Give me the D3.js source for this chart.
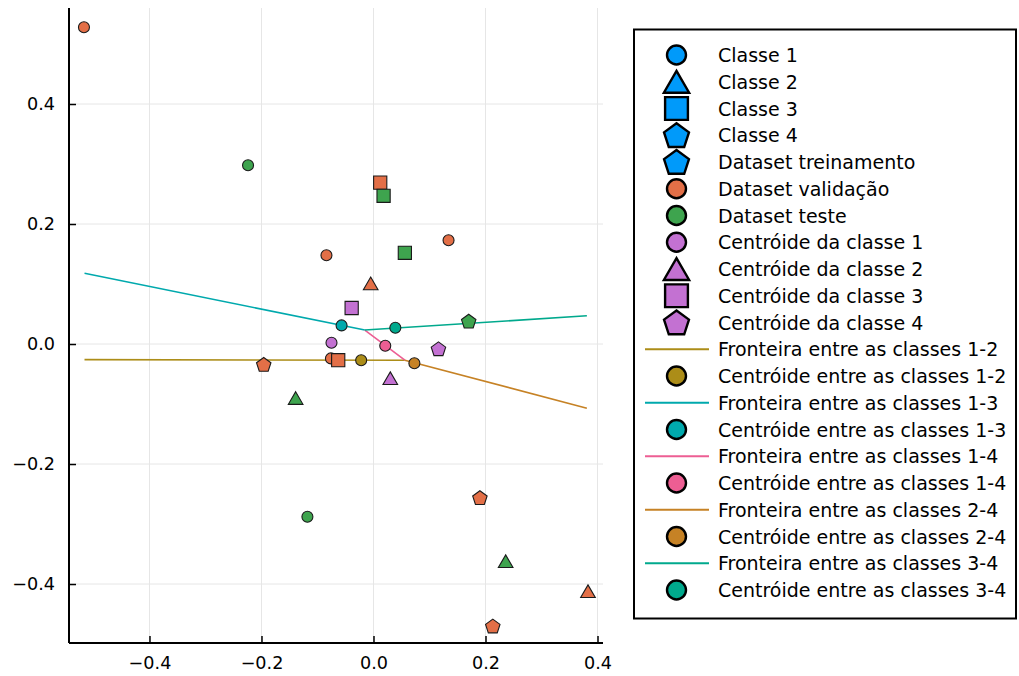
<!DOCTYPE html>
<html>
<head>
<meta charset="utf-8">
<script src="https://cdn.jsdelivr.net/npm/d3@7"></script>
<style>
  html, body { margin: 0; padding: 0; background: #fff; }
  svg { display: block; font-family: "DejaVu Sans", sans-serif; }
</style>
</head>
<body>
<svg id="chart" width="1019" height="676"></svg>
<script>
// ---- data ---------------------------------------------------------------
// Dataset points: [x, y, shape]
const validacao = [
  [-0.517, 0.528, "circle"],
  [0.134, 0.173, "circle"],
  [-0.084, 0.148, "circle"],
  [-0.076, -0.024, "circle"],
  [0.012, 0.269, "square"],
  [-0.063, -0.027, "square"],
  [-0.005, 0.101, "triangle"],
  [0.383, -0.412, "triangle"],
  [-0.196, -0.034, "pentagon"],
  [0.190, -0.256, "pentagon"],
  [0.213, -0.470, "pentagon"]
];
const teste = [
  [-0.224, 0.298, "circle"],
  [-0.118, -0.288, "circle"],
  [0.018, 0.247, "square"],
  [0.056, 0.152, "square"],
  [-0.139, -0.090, "triangle"],
  [0.236, -0.362, "triangle"],
  [0.170, 0.038, "pentagon"]
];
// Class centroids
const centroides = [
  [-0.075, 0.002, "circle"],
  [0.030, -0.057, "triangle"],
  [-0.039, 0.060, "square"],
  [0.116, -0.008, "pentagon"]
];
// Decision boundaries between class pairs
const pares = ["1-2", "1-3", "1-4", "2-4", "3-4"];
const fronteiras = [
  [[-0.516, -0.026], [0.056, -0.027]],
  [[-0.516, 0.118], [-0.0155, 0.0233]],
  [[-0.0155, 0.0233], [0.056, -0.027]],
  [[0.056, -0.027], [0.381, -0.107]],
  [[-0.0155, 0.0233], [0.381, 0.047]]
];
// Midpoint centroid between each class pair
const centroidesEntre = [
  [-0.022, -0.027],
  [-0.057, 0.031],
  [0.021, -0.003],
  [0.073, -0.032],
  [0.039, 0.027]
];
const xTicks = [-0.4, -0.2, 0.0, 0.2, 0.4];
const yTicks = [-0.4, -0.2, 0.0, 0.2, 0.4];

const palette = ["#009AFA", "#E36F47", "#3EA44E", "#C371D2",
                 "#AC8D18", "#00A9AD", "#ED5E93", "#C68225", "#00A98D"];
const pairColors = palette.slice(4, 9);

// Legend entries in drawing order
const legendEntries = [
  { label: "Classe 1", kind: "marker", shape: "circle", color: palette[0] },
  { label: "Classe 2", kind: "marker", shape: "triangle", color: palette[0] },
  { label: "Classe 3", kind: "marker", shape: "square", color: palette[0] },
  { label: "Classe 4", kind: "marker", shape: "pentagon", color: palette[0] },
  { label: "Dataset treinamento", kind: "marker", shape: "pentagon", color: palette[0] },
  { label: "Dataset validação", kind: "marker", shape: "circle", color: palette[1] },
  { label: "Dataset teste", kind: "marker", shape: "circle", color: palette[2] },
  { label: "Centróide da classe 1", kind: "marker", shape: "circle", color: palette[3] },
  { label: "Centróide da classe 2", kind: "marker", shape: "triangle", color: palette[3] },
  { label: "Centróide da classe 3", kind: "marker", shape: "square", color: palette[3] },
  { label: "Centróide da classe 4", kind: "marker", shape: "pentagon", color: palette[3] }
];
pares.forEach((p, i) => {
  legendEntries.push({ label: "Fronteira entre as classes " + p, kind: "line", color: pairColors[i] });
  legendEntries.push({ label: "Centróide entre as classes " + p, kind: "marker", shape: "circle", color: pairColors[i] });
});

// ---- layout -------------------------------------------------------------
const svg = d3.select("#chart");
const plot = { left: 69, right: 603, top: 8, bottom: 643 };

const x = d3.scaleLinear().domain([-0.5437, 0.4098]).range([plot.left, plot.right]);
const y = d3.scaleLinear().domain([0.5600, -0.4983]).range([plot.top, plot.bottom]);

const fmt = d => (d < 0 ? "\u2212" : "") + Math.abs(d).toFixed(1);

// marker shape paths (centred at origin); s = nominal size
function shapePath(shape, s) {
  if (shape === "circle") {
    const r = s / 2;
    return `M${r},0A${r},${r},0,1,1,${-r},0A${r},${r},0,1,1,${r},0Z`;
  }
  if (shape === "square") {
    const h = s * 1.2 / 2;
    return `M${-h},${-h}H${h}V${h}H${-h}Z`;
  }
  if (shape === "triangle") {
    const w = s * 1.33, h = s * 1.15;
    return `M0,${-h / 2}L${w / 2},${h / 2}L${-w / 2},${h / 2}Z`;
  }
  if (shape === "pentagon") {
    const R = s * 0.69;
    const pts = d3.range(5).map(k => {
      const a = (-90 + 72 * k) * Math.PI / 180;
      return [R * Math.cos(a), R * Math.sin(a) + R * 0.09];
    });
    return "M" + pts.map(p => p.join(",")).join("L") + "Z";
  }
}

// ---- grid ---------------------------------------------------------------
const grid = svg.append("g").attr("stroke", "#e6e6e6").attr("stroke-width", 1);
grid.selectAll("line.gx").data(xTicks).join("line")
  .attr("x1", d => x(d)).attr("x2", d => x(d))
  .attr("y1", plot.top).attr("y2", plot.bottom);
grid.selectAll("line.gy").data(yTicks).join("line")
  .attr("y1", d => y(d)).attr("y2", d => y(d))
  .attr("x1", plot.left).attr("x2", plot.right);

// ---- boundaries ---------------------------------------------------------
const line = d3.line().x(d => x(d[0])).y(d => y(d[1]));
svg.append("g").selectAll("path").data(fronteiras).join("path")
  .attr("d", line)
  .attr("fill", "none")
  .attr("stroke", (d, i) => pairColors[i])
  .attr("stroke-width", 1.6);

// ---- markers ------------------------------------------------------------
function drawPoints(data, color, size) {
  svg.append("g").selectAll("path").data(data).join("path")
    .attr("transform", d => `translate(${x(d[0])},${y(d[1])})`)
    .attr("d", d => shapePath(d[2], size))
    .attr("fill", color)
    .attr("stroke", "#1a1a1a")
    .attr("stroke-width", 1.1);
}
drawPoints(validacao, palette[1], 11);
drawPoints(teste, palette[2], 11);
drawPoints(centroides, palette[3], 11);
svg.append("g").selectAll("path").data(centroidesEntre).join("path")
  .attr("transform", d => `translate(${x(d[0])},${y(d[1])})`)
  .attr("d", shapePath("circle", 11))
  .attr("fill", (d, i) => pairColors[i])
  .attr("stroke", "#1a1a1a")
  .attr("stroke-width", 1.1);

// ---- axes ---------------------------------------------------------------
const xAxis = svg.append("g")
  .attr("transform", `translate(0,${plot.bottom})`)
  .call(d3.axisBottom(x).tickValues(xTicks).tickFormat(fmt)
    .tickSizeInner(-7).tickSizeOuter(0).tickPadding(14));
const yAxis = svg.append("g")
  .attr("transform", `translate(${plot.left},0)`)
  .call(d3.axisLeft(y).tickValues(yTicks).tickFormat(fmt)
    .tickSizeInner(-7).tickSizeOuter(0).tickPadding(14));
[xAxis, yAxis].forEach(a => {
  a.select(".domain").attr("stroke", "#000").attr("stroke-width", 2);
  a.selectAll(".tick line").attr("stroke", "#000").attr("stroke-width", 1.5);
  a.selectAll(".tick text").attr("fill", "#000")
    .style("font-family", "'DejaVu Sans', sans-serif").style("font-size", "17.6px");
});
xAxis.select(".domain").attr("d", `M${plot.left},0H${plot.right}`);
yAxis.select(".domain").attr("d", `M0,${plot.top}V${plot.bottom}`);

// ---- legend -------------------------------------------------------------
const legend = svg.append("g");
legend.append("rect")
  .attr("x", 634).attr("y", 29.5).attr("width", 382).attr("height", 589)
  .attr("fill", "#fff").attr("stroke", "#000").attr("stroke-width", 2);

const rowY = i => 55 + i * 26.75;
const rows = legend.selectAll("g.row").data(legendEntries).join("g")
  .attr("transform", (d, i) => `translate(0,${rowY(i)})`);

rows.filter(d => d.kind === "line").append("line")
  .attr("x1", 645).attr("x2", 709).attr("y1", 0).attr("y2", 0)
  .attr("stroke", d => d.color).attr("stroke-width", 2);

rows.filter(d => d.kind === "marker").append("path")
  .attr("transform", "translate(676.5,0)")
  .attr("d", d => shapePath(d.shape, 19))
  .attr("fill", d => d.color)
  .attr("stroke", "#000")
  .attr("stroke-width", 2.4);

rows.append("text")
  .attr("x", 718).attr("y", 0).attr("dy", "0.38em")
  .style("font-size", "19px")
  .attr("fill", "#000")
  .text(d => d.label);
</script>
</body>
</html>
